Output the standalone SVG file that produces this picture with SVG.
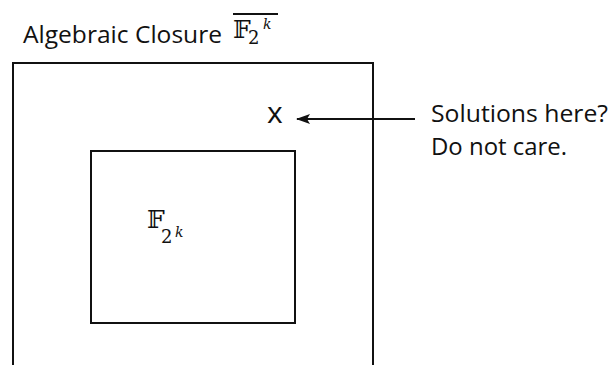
<svg xmlns="http://www.w3.org/2000/svg" width="609" height="365" viewBox="0 0 609 365">
<style>
.lbl{font-family:"Open Sans","DejaVu Sans",sans-serif;fill:#111;}
.math{font-family:"DejaVu Serif","Liberation Serif",serif;fill:#111;}
.box{fill:none;stroke:#111;stroke-width:2;}
</style>
<defs>
<marker id="ah" markerWidth="14" markerHeight="10" refX="13" refY="5" orient="auto" markerUnits="userSpaceOnUse">
<path d="M0,0 L14,5 L0,10 L3,5 Z" fill="#111"/>
</marker>
</defs>
<rect width="609" height="365" fill="#fff"/>
<g id="title">
<text class="lbl" x="23" y="43" font-size="24" textLength="199" lengthAdjust="spacingAndGlyphs">Algebraic Closure</text>
<text class="math" font-size="25"><tspan x="233" y="38">𝔽</tspan><tspan x="248" y="44" font-size="18">2</tspan><tspan x="263" y="29" font-size="14" font-style="italic">k</tspan></text>
<line x1="233" y1="14" x2="278" y2="14" stroke="#111" stroke-width="2"/>
</g>
<g id="closure">
<path class="box" d="M13,366 V63 H373 V366"/>
</g>
<g id="field">
<rect class="box" x="91" y="151" width="204" height="172"/>
<text class="math" font-size="25"><tspan x="147" y="228">𝔽</tspan><tspan x="161" y="243" font-size="18">2</tspan><tspan x="175" y="237" font-size="14" font-style="italic">k</tspan></text>
</g>
<g id="point">
<text class="lbl" x="267" y="123" font-size="30">x</text>
</g>
<g id="note">
<text class="lbl" x="431" y="122" font-size="24" textLength="177" lengthAdjust="spacingAndGlyphs">Solutions here?</text>
<text class="lbl" x="431" y="155" font-size="24" textLength="136" lengthAdjust="spacingAndGlyphs">Do not care.</text>
</g>
<g id="connectors">
<line x1="415" y1="119" x2="297" y2="119" stroke="#111" stroke-width="2" marker-end="url(#ah)"/>
</g>
</svg>
